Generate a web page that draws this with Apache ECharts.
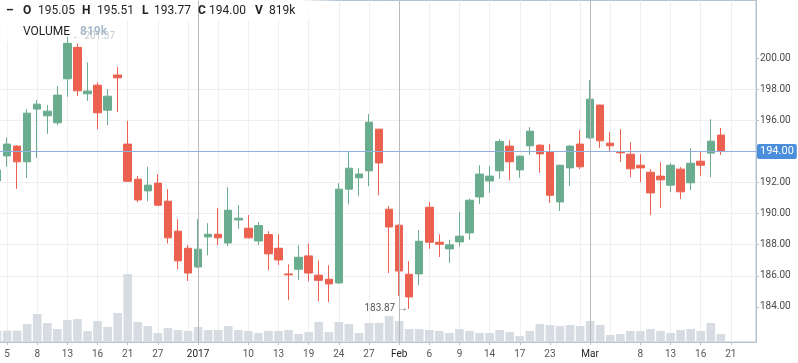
<!DOCTYPE html>
<html><head><meta charset="utf-8">
<script src="https://cdn.jsdelivr.net/npm/echarts/dist/echarts.min.js"></script>
<style>html,body{margin:0;padding:0;background:#fff}#c{width:798px;height:363px}</style>
</head><body><div id="c"></div>
<script>
const dates = [
 '2016-12-02','2016-12-05','2016-12-06','2016-12-07','2016-12-08','2016-12-09','2016-12-12','2016-12-13','2016-12-14','2016-12-15',
 '2016-12-16','2016-12-19','2016-12-20','2016-12-21','2016-12-22','2016-12-23','2016-12-27','2016-12-28','2016-12-29','2016-12-30',
 '2017-01-03','2017-01-04','2017-01-05','2017-01-06','2017-01-09','2017-01-10','2017-01-11','2017-01-12','2017-01-13','2017-01-17',
 '2017-01-18','2017-01-19','2017-01-20','2017-01-23','2017-01-24','2017-01-25','2017-01-26','2017-01-27','2017-01-30','2017-01-31',
 '2017-02-01','2017-02-02','2017-02-03','2017-02-06','2017-02-07','2017-02-08','2017-02-09','2017-02-10','2017-02-13','2017-02-14',
 '2017-02-15','2017-02-16','2017-02-17','2017-02-21','2017-02-22','2017-02-23','2017-02-24','2017-02-27','2017-02-28','2017-03-01',
 '2017-03-02','2017-03-03','2017-03-06','2017-03-07','2017-03-08','2017-03-09','2017-03-10','2017-03-13','2017-03-14','2017-03-15',
 '2017-03-16','2017-03-17','2017-03-20','2017-03-21','2017-03-22','2017-03-23'
];
const opens = [192.10,193.71,194.34,193.33,196.72,196.29,195.84,198.67,200.69,197.70,
 198.26,196.65,198.91,194.47,192.21,191.46,191.96,190.80,188.87,187.77,
 186.57,188.50,188.67,188.11,189.59,189.06,188.24,188.65,187.77,186.12,
 186.42,187.28,186.04,185.78,185.54,191.57,192.30,192.75,195.43,190.28,
 189.25,186.10,186.12,190.41,188.16,187.73,188.18,188.76,191.07,192.10,
 192.75,194.34,192.81,194.36,194.40,193.97,190.75,192.94,194.47,194.87,
 196.98,194.53,193.97,193.82,193.11,192.66,192.41,191.83,192.86,191.98,
 193.37,193.89,195.05];
const highs = [193.00,194.90,194.40,196.72,197.30,196.98,198.20,201.37,200.95,199.72,
 198.44,198.01,199.42,195.97,192.41,193.01,192.54,191.57,189.64,187.97,
 189.64,189.38,190.37,191.70,190.54,189.90,189.45,188.87,188.67,186.74,
 187.97,188.08,187.00,186.68,191.96,194.02,192.92,196.40,195.45,190.48,
 189.30,186.94,188.93,190.73,188.67,188.31,190.09,190.97,193.11,193.05,
 194.79,194.72,193.75,195.56,194.47,194.47,193.15,194.40,195.37,198.58,
 197.00,195.24,195.43,194.59,193.82,192.86,193.31,193.24,192.99,194.21,
 193.97,196.07,195.51];
const lows = [191.90,193.01,191.59,192.30,193.58,195.13,195.69,197.51,197.57,197.25,
 195.43,195.69,196.54,192.04,190.73,190.80,190.50,188.08,186.42,185.67,
 186.50,187.32,187.97,187.90,189.02,188.40,187.97,186.36,186.70,184.43,
 185.71,185.65,184.36,184.30,185.50,190.60,191.12,191.76,191.18,186.18,
 184.70,183.87,185.39,187.73,187.21,186.83,187.86,188.31,190.62,191.33,
 192.23,192.15,192.30,193.78,192.62,190.69,190.17,191.78,192.86,194.80,
 194.23,193.97,193.33,192.34,192.02,189.90,190.37,191.38,190.93,191.51,
 192.41,192.34,193.77];
const closes = [192.80,194.47,193.33,196.46,197.04,196.59,197.62,200.95,197.90,197.88,
 196.48,197.55,198.73,192.08,190.88,191.83,190.54,188.44,186.96,186.18,
 187.71,188.67,188.44,190.22,189.70,188.44,189.23,187.41,187.02,186.06,
 187.19,186.18,185.71,185.48,191.57,192.92,192.54,195.88,193.26,189.14,
 186.31,184.64,188.22,188.16,188.03,187.99,188.55,190.86,192.54,192.41,
 194.64,193.33,193.69,195.30,193.84,191.18,193.11,194.34,193.01,197.36,
 194.68,194.36,193.91,192.88,192.94,191.33,192.17,193.11,191.40,193.24,
 193.11,194.66,194.00];
const volumes = [1160,1160,1160,1840,2870,1950,1330,2250,2360,1130,
 2150,1540,2970,6960,2050,1640,920,1430,1230,1130,
 1540,1230,1230,1640,1230,1130,920,1130,1130,1230,
 820,1020,2050,1020,2050,1840,920,1950,1950,2660,
 2150,1330,1330,1230,1130,920,1330,1130,920,920,
 1230,1020,610,1130,1840,1740,1640,1740,1640,2150,
 1740,720,820,1130,1130,1330,1130,920,1230,1330,
 1130,1950,819];
const tickDates = ['2016-12-05','2016-12-08','2016-12-13','2016-12-16','2016-12-21','2016-12-27','2017-01-03','2017-01-10','2017-01-13','2017-01-19','2017-01-24','2017-01-27','2017-02-01','2017-02-06','2017-02-09','2017-02-14','2017-02-17','2017-02-23','2017-03-01','2017-03-08','2017-03-13','2017-03-16','2017-03-21'];
const tickTexts = ['5','8','13','16','21','27','2017','10','13','19','24','27','Feb','6','9','14','17','23','Mar','8','13','16','21'];
const boundaryTexts = ['2017','Feb','Mar'];
const monthDates = ['2017-01-03','2017-02-01','2017-03-01'];
const priceTicks = [184,186,188,190,192,194,196,198,200];
const lastPrice = 194.00;
const header = {O:'195.05', H:'195.51', L:'193.77', C:'194.00', V:'819k'};
const highMark = ['2016-12-13', 201.37];
const lowMark = ['2017-02-02', 183.87];

const UP = '#6aac8e', DOWN = '#ec604f', AX = '#b3c2d1', F = 'Roboto';
const candle = opens.map((o, i) => [o, closes[i], lows[i], highs[i]]);
const tickSet = new Set(tickDates);
const isTick = (i, v) => tickSet.has(dates[i]);
const isGrid = (i) => (i % 3) === 1;

const chart = echarts.init(document.getElementById('c'), null, {renderer: 'canvas'});
const txt = (x, text, bold, color, y) => ({
  type: 'text', x: x, y: y === undefined ? 11 : y, z: 20,
  style: {text: text, fill: color || '#222', font: (bold ? 'bold ' : '') + '12px ' + F, textVerticalAlign: 'middle'}
});
chart.setOption({
  animation: false,
  textStyle: {fontFamily: F},
  grid: [
    {left: -8, right: 42, top: 0.5, bottom: 21, show: true, borderColor: AX, borderWidth: 1, backgroundColor: 'transparent', outerBoundsMode: 'none', containLabel: false},
    {left: -8, right: 42, top: 27, bottom: 25, outerBoundsMode: 'none', containLabel: false}
  ],
  xAxis: [
    {type: 'category', gridIndex: 0, data: dates, boundaryGap: true,
     axisLine: {show: true, lineStyle: {color: AX, width: 1}},
     axisTick: {show: true, interval: isTick, alignWithLabel: true, length: 3, lineStyle: {color: AX}},
     axisLabel: {interval: isTick, margin: 7, fontSize: 10, color: '#555', fontFamily: F, hideOverlap: false,
       formatter: (v) => { const k = tickDates.indexOf(v); if (k < 0) return ''; const t = tickTexts[k]; return boundaryTexts.includes(t) ? '{m|' + t + '}' : t; },
       rich: {m: {color: '#1e1e1e', fontSize: 10, fontFamily: F}}},
     splitLine: {show: true, interval: isGrid, alignWithLabel: true, lineStyle: {color: '#efefef', width: 1}}},
    {type: 'category', gridIndex: 1, data: dates, boundaryGap: true, show: false}
  ],
  yAxis: [
    {type: 'value', gridIndex: 0, position: 'right', min: 0, max: 35000,
     axisLine: {show: true, lineStyle: {color: AX}}, axisTick: {show: false}, axisLabel: {show: false}, splitLine: {show: false}},
    {type: 'value', gridIndex: 1, position: 'right', min: 182, max: 202, interval: 2, scale: true,
     axisLine: {show: false},
     axisTick: {show: true, length: 3, lineStyle: {color: AX}, customValues: priceTicks},
     axisLabel: {margin: 4, fontSize: 10, color: '#4a4a4a', fontFamily: F, customValues: priceTicks, hideOverlap: false,
       formatter: (v) => v.toFixed(2)},
     splitLine: {show: true, showMinLine: false, showMaxLine: false, lineStyle: {color: '#efefef'}}}
  ],
  series: [
    {type: 'bar', xAxisIndex: 0, yAxisIndex: 0, data: volumes, barWidth: '86%', itemStyle: {color: '#d6dce2'}, silent: true,
     markLine: {silent: true, symbol: ['none', 'none'], label: {show: false}, lineStyle: {color: '#b9b9b9', width: 1, type: 'solid'},
       data: monthDates.map(d => ({xAxis: d}))}},
    {type: 'candlestick', xAxisIndex: 1, yAxisIndex: 1, data: candle, barWidth: 8, clip: true,
     itemStyle: {color: UP, color0: DOWN, borderColor: UP, borderColor0: DOWN, borderWidth: 1},
     markLine: {silent: true, symbol: ['none', 'none'], lineStyle: {color: '#8fb0df', width: 1, type: 'solid'},
       label: {show: true, position: 'end', distance: 1, formatter: lastPrice.toFixed(2), color: '#fff', backgroundColor: '#4b8fdc',
         padding: [2, 3, 2, 3], borderRadius: 2, fontSize: 11, fontFamily: F},
       data: [{yAxis: lastPrice}]},
     markPoint: {silent: true, symbol: 'circle', symbolSize: 1, itemStyle: {color: 'rgba(0,0,0,0)'},
       data: [
         {coord: highMark, label: {show: true, position: 'right', distance: 4, formatter: '\u2190 ' + highMark[1].toFixed(2), color: '#c4c8ce', fontSize: 10, fontFamily: F}},
         {coord: lowMark, label: {show: true, position: 'left', distance: 1, formatter: lowMark[1].toFixed(2) + ' \u2192', color: '#555', fontSize: 10, fontFamily: F}}
       ]}}
  ],
  graphic: [
    {type: 'rect', z: 1, shape: {x: 0, y: 0, width: 340, height: 20},
     style: {fill: new echarts.graphic.LinearGradient(0, 0, 1, 0, [{offset: 0, color: 'rgba(255,255,255,1)'}, {offset: 0.88, color: 'rgba(255,255,255,1)'}, {offset: 1, color: 'rgba(255,255,255,0)'}])}},
    {type: 'rect', z: 1, shape: {x: 0, y: 20, width: 114, height: 22}, style: {fill: 'rgba(255,255,255,0.8)'}},
    txt(6, '\u2013', true),
    txt(23, 'O', true), txt(38, header.O, false, '#222'),
    txt(82, 'H', true), txt(97, header.H, false, '#222'),
    txt(142, 'L', true), txt(154, header.L, false, '#222'),
    txt(198, 'C', true), txt(209, header.C, false, '#222'),
    txt(255, 'V', true), txt(269, header.V, false, '#222'),
    txt(23, 'VOLUME', false, '#222', 31.5),
    txt(80, header.V, true, '#a9bacb', 31.5)
  ]
});
</script></body></html>
